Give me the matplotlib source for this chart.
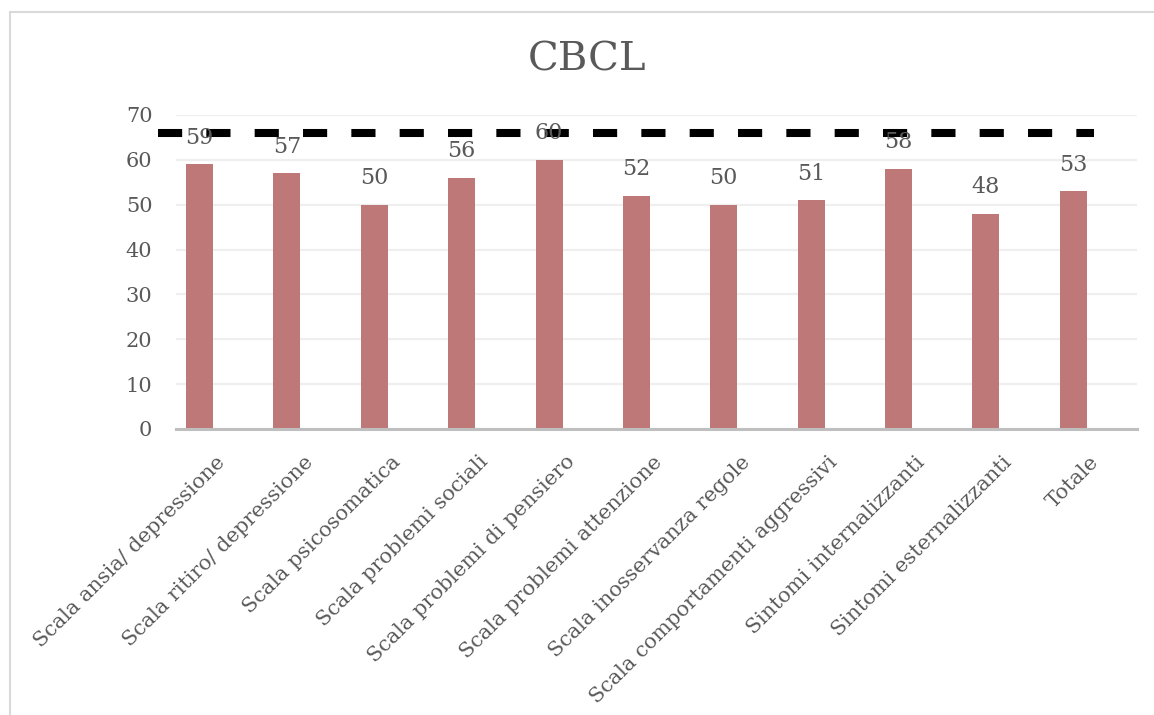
import matplotlib
matplotlib.use("Agg")
import matplotlib.pyplot as plt
import matplotlib.transforms as mtransforms
from matplotlib.patches import Rectangle
from matplotlib.lines import Line2D

categories = [
    "Scala ansia/ depressione",
    "Scala ritiro/ depressione",
    "Scala psicosomatica",
    "Scala problemi sociali",
    "Scala problemi di pensiero",
    "Scala problemi attenzione",
    "Scala inosservanza regole",
    "Scala comportamenti aggressivi",
    "Sintomi internalizzanti",
    "Sintomi esternalizzanti",
    "Totale",
]
scores = [59, 57, 50, 56, 60, 52, 50, 51, 58, 48, 53]
cutoff = 66
yticks = [0, 10, 20, 30, 40, 50, 60, 70]

FONT = "DejaVu Serif"
TXT = "#595959"
BAR = "#BE7877"

fig = plt.figure(figsize=(11.54, 7.15), dpi=100)
W, H = 1154, 715

# outer chart frame (only top/left edges fall inside the canvas)
fig.patches.append(Rectangle((9.5 / W, -0.1), 1.2, 1 - 12 / H + 0.1,
                             transform=fig.transFigure, fill=False,
                             edgecolor="#D9D9D9", linewidth=1.5))

ax = fig.add_axes([176 / W, 1 - 429 / H, (1137 - 176) / W, (429 - 115) / H])
x = list(range(len(categories)))

ax.bar(x, scores, width=0.31, color=BAR, zorder=2)
ax.set_xlim(-0.27, 10.73)
ax.set_ylim(0, 70)

ax.add_line(Line2D([-0.48, 10.24], [cutoff, cutoff], color="black",
                   linewidth=5.8, dashes=(3, 3), solid_capstyle="butt",
                   dash_capstyle="butt", clip_on=False, zorder=3))

for xi, v in zip(x, scores):
    ax.annotate(str(v), (xi, v), xytext=(0, 19), textcoords="offset points",
                ha="center", va="center", fontsize=16, color=TXT,
                family=FONT, zorder=4)

ax.set_yticks(yticks)
ax.yaxis.grid(True, color="#EFEFEF", linewidth=1.6, zorder=0)
ax.set_axisbelow(True)
for s in ["top", "right", "left"]:
    ax.spines[s].set_visible(False)
ax.spines["bottom"].set_color("#BFBFBF")
ax.spines["bottom"].set_linewidth(2.2)
ax.tick_params(axis="y", length=0, pad=17, labelsize=15, labelcolor=TXT)
ax.tick_params(axis="x", length=0, pad=0)
for lab in ax.get_yticklabels():
    lab.set_family(FONT)

ax.set_xticks(x)
ax.set_xticklabels(categories, rotation=45, ha="right", va="center",
                   rotation_mode="anchor", fontsize=15, color=TXT, family=FONT)
shift = mtransforms.ScaledTranslation(23 / 100, -30 / 100, fig.dpi_scale_trans)
for lab in ax.get_xticklabels():
    lab.set_transform(lab.get_transform() + shift)

fig.text(587 / W, 1 - 60 / H, "CBCL", ha="center", va="center",
         fontsize=29, color=TXT, family=FONT)

fig.savefig("out.png", dpi=100)
